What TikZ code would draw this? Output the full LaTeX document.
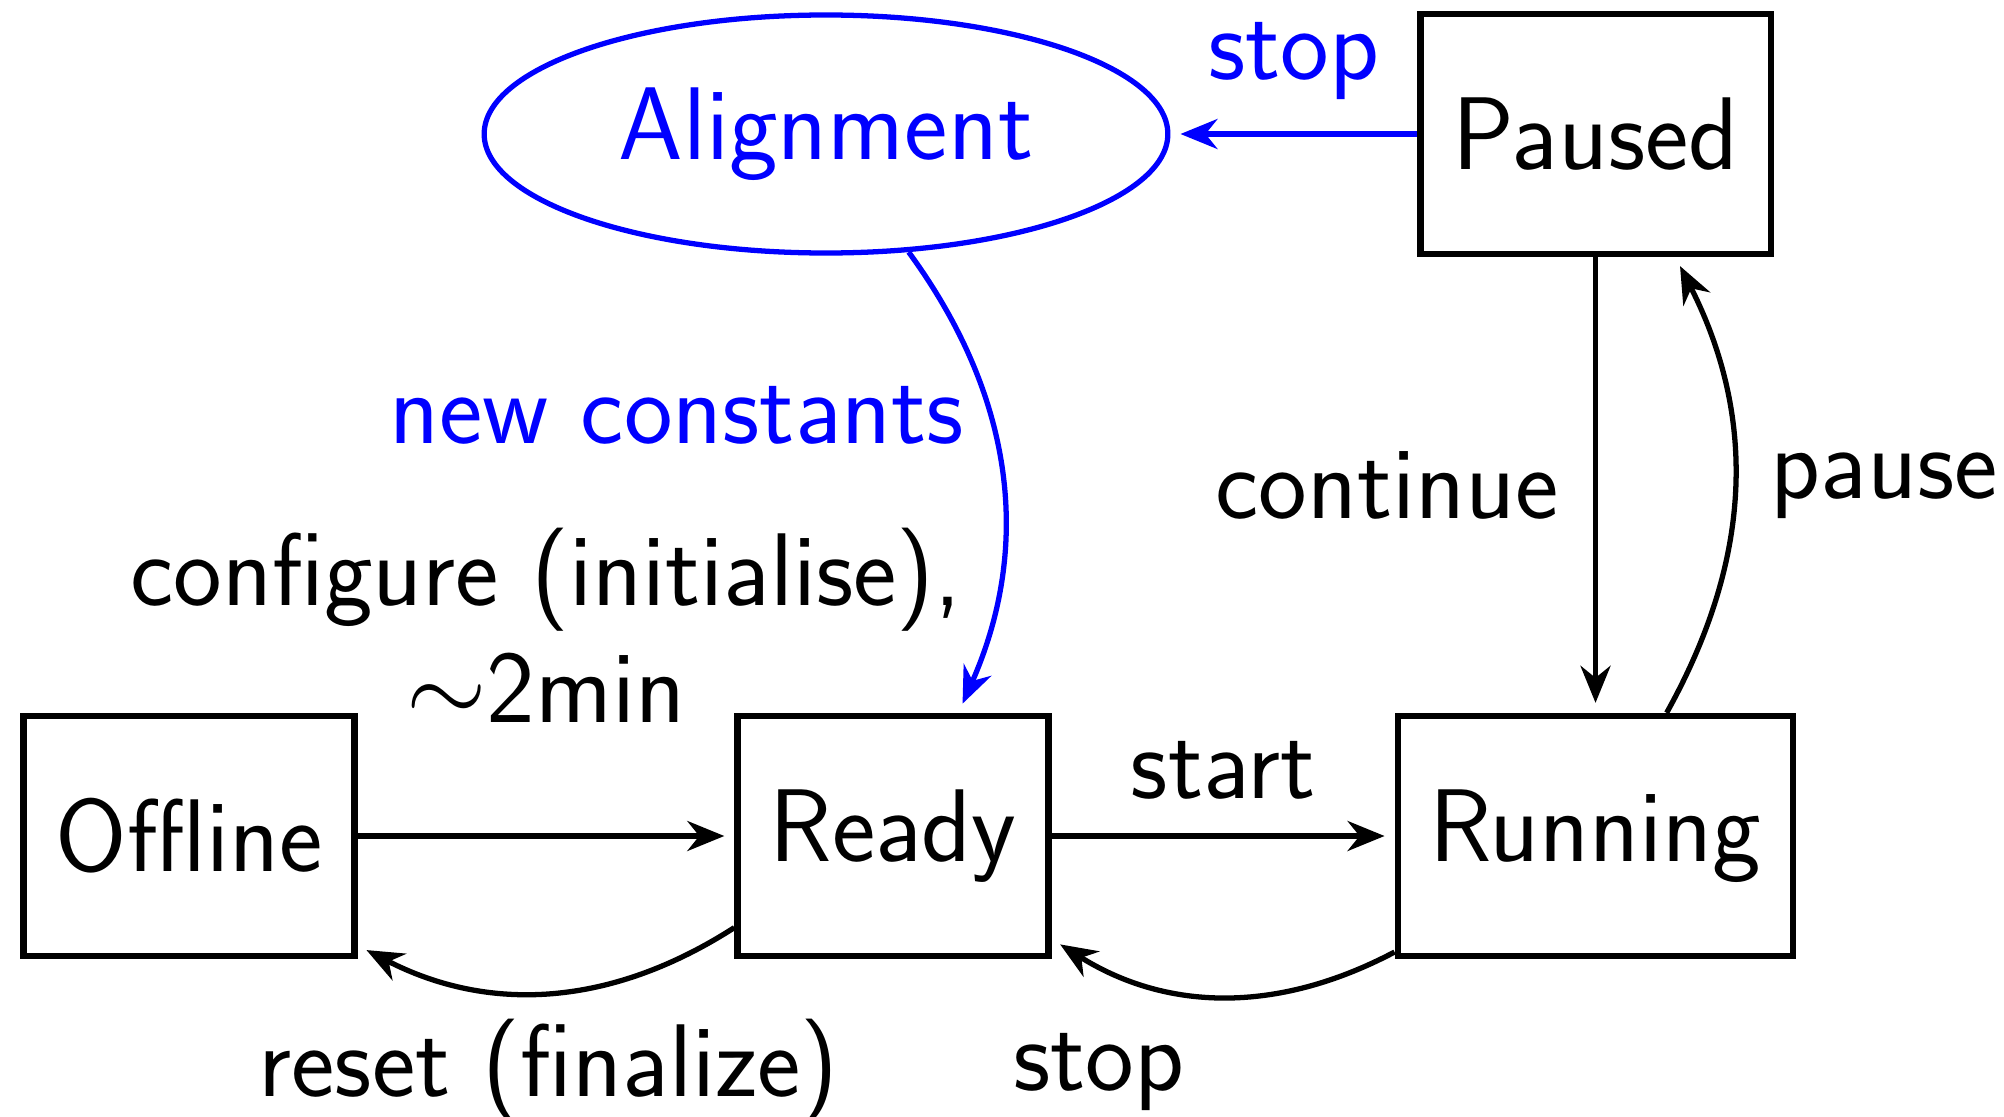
\RequirePackage{fix-cm}
\documentclass[tikz,border=0pt]{standalone}
\usepackage{amsmath, amssymb}
\usepackage{tikz}
\usetikzlibrary{shapes,arrows.meta}
\usetikzlibrary{positioning}
\renewcommand{\familydefault}{\sfdefault}

\begin{document}
\fontsize{29.4}{33.5}\selectfont
\begin{tikzpicture}[>={Stealth[length=0.37cm,width=0.3cm,inset=0.12cm]},
            statebox/.style={draw,line width=1.8pt,minimum height=2.4cm,inner xsep=0.32cm},
            alignbox/.style={draw,blue,text=blue,ellipse,line width=1.5pt,minimum width=6.68cm,minimum height=2.38cm},
            ]
\useasboundingbox (0,0) rectangle (20.04,11.16);
\node [statebox] (offline) at (1.89,2.80) {Offline};
\node [statebox] (ready) at (8.93,2.80) {Ready};
\node [statebox] (running) at (15.955,2.80) {Running};
\node [statebox] (paused) at (15.955,9.82) {Paused};
\node [alignbox] (alignment) at (8.26,9.82) {Alignment};
\begin{scope}[line width=1.5pt,shorten >=0.1cm]
\draw[->] (offline) -- (ready) node [midway,above=0.76cm,align=center] {configure (initialise),\\ $\sim$2min};
\draw[->] (ready) -- (running) node [midway,above] {start};
\draw[->] (ready.210) to[bend left=30] node [midway,below,yshift=0.1cm] {reset (finalize)} (offline.-33);
\draw[->] (running.210) to[bend left=30] node [midway,below left] {stop} (ready.-33);
\draw[->] (running.60) to[bend right=28] node [midway,right] {pause} (paused.-57);
\draw[->] (paused) -- (running) node [midway,left] {continue};
\draw[->,blue] (paused) -- (alignment) node [midway,above,yshift=-0.03cm] {stop};
\draw[->,blue] (alignment.-55) to[bend left=30] node [midway,above left,yshift=-0.06cm] {new constants} (ready.62);
\end{scope}
\end{tikzpicture}
\end{document}
